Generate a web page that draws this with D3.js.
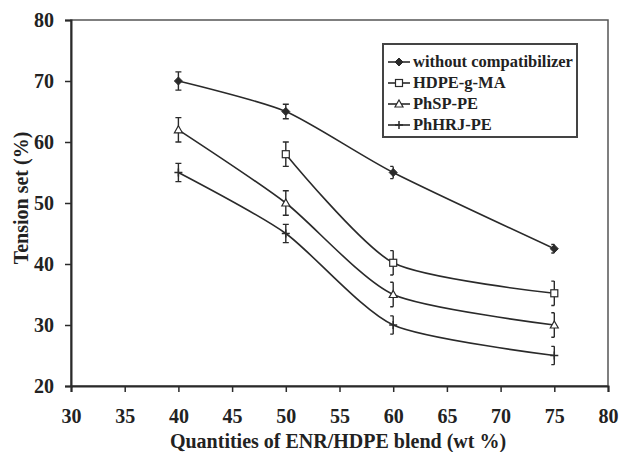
<!DOCTYPE html>
<html><head><meta charset="utf-8">
<script src="https://cdn.jsdelivr.net/npm/d3@7"></script>
<style>body{margin:0;background:#fff}svg{display:block}text{font-family:"Liberation Serif","Times New Roman",serif;font-weight:bold;fill:#222}</style>
</head><body><svg id="c" width="620" height="452"></svg>
<script>
const xTicks = [30,35,40,45,50,55,60,65,70,75,80];
const yTicks = [20,30,40,50,60,70,80];
const seriesNames = ["without compatibilizer","HDPE-g-MA","PhSP-PE","PhHRJ-PE"];
const markerTypes = ["diamond","square","triangle","plus"];
const xWithout = [40,50,60,75];
const yWithout = [70,65,55,42.5];
const eWithout = [1.5,1.2,1,0.7];
const xHdpe = [50,60,75];
const yHdpe = [58,40.2,35.2];
const eHdpe = [2,2,2];
const xPhsp = [40,50,60,75];
const yPhsp = [62,50,35,30];
const ePhsp = [2,2,2,2];
const xPhhrj = [40,50,60,75];
const yPhhrj = [55,45,30,25];
const ePhhrj = [1.5,1.5,1.5,1.5];
const xTitle = "Quantities of ENR/HDPE blend (wt %)";
const yTitle = "Tension set (%)";

const series = [
  {name:seriesNames[0], m:markerTypes[0], xs:xWithout, ys:yWithout, es:eWithout},
  {name:seriesNames[1], m:markerTypes[1], xs:xHdpe, ys:yHdpe, es:eHdpe},
  {name:seriesNames[2], m:markerTypes[2], xs:xPhsp, ys:yPhsp, es:ePhsp},
  {name:seriesNames[3], m:markerTypes[3], xs:xPhhrj, ys:yPhhrj, es:ePhhrj}
];

const L=71, R=608, T=20, B=386;
const svg = d3.select("#c");
const x = d3.scaleLinear().domain([30,80]).range([L,R]);
const y = d3.scaleLinear().domain([20,80]).range([B,T]);
const ink = "#2a2a2a";

svg.append("rect").attr("x",L).attr("y",T).attr("width",R-L).attr("height",B-T)
  .attr("fill","none").attr("stroke","#555").attr("stroke-width",1.5);

const gx = svg.append("g").attr("transform",`translate(0,${B})`)
  .call(d3.axisBottom(x).tickValues(xTicks).tickSize(6).tickPadding(17).tickFormat(d3.format("d")));
const gy = svg.append("g").attr("transform",`translate(${L},0)`)
  .call(d3.axisLeft(y).tickValues(yTicks).tickSize(6).tickPadding(11).tickFormat(d3.format("d")));
[gx,gy].forEach(g=>{
  g.select(".domain").attr("stroke",ink).attr("stroke-width",2);
  g.selectAll(".tick line").attr("stroke",ink).attr("stroke-width",1.5);
  g.selectAll("text").attr("font-size",20).attr("font-family","Liberation Serif").attr("font-weight","bold").attr("fill","#222");
});

svg.append("text").attr("x",338).attr("y",448).attr("text-anchor","middle").attr("font-size",20).text(xTitle);
svg.append("text").attr("transform",`translate(28,198) rotate(-90)`).attr("text-anchor","middle").attr("font-size",20).text(yTitle);

const line = d3.line().x(d=>x(d[0])).y(d=>y(d[1])).curve(d3.curveCardinal.tension(0.3));

function marker(g, type, cx, cy){
  if(type==="diamond"){
    g.append("path").attr("d",`M${cx},${cy-4}L${cx+4},${cy}L${cx},${cy+4}L${cx-4},${cy}Z`).attr("fill",ink).attr("stroke",ink);
  } else if(type==="square"){
    g.append("rect").attr("x",cx-3.5).attr("y",cy-3.5).attr("width",7).attr("height",7).attr("fill","#fff").attr("stroke",ink).attr("stroke-width",1.2);
  } else if(type==="triangle"){
    g.append("path").attr("d",`M${cx},${cy-4}L${cx+4},${cy+3}L${cx-4},${cy+3}Z`).attr("fill","#fff").attr("stroke",ink).attr("stroke-width",1.2);
  } else {
    g.append("path").attr("d",`M${cx-4},${cy}H${cx+4}M${cx},${cy-4}V${cy+4}`).attr("stroke",ink).attr("stroke-width",1.5);
  }
}

series.forEach(s=>{
  const pts = s.xs.map((v,i)=>[v,s.ys[i]]);
  const g = svg.append("g");
  g.append("path").datum(pts).attr("d",line).attr("fill","none").attr("stroke",ink).attr("stroke-width",1.6);
  pts.forEach((p,i)=>{
    const cx=x(p[0]), lo=y(p[1]-s.es[i]), hi=y(p[1]+s.es[i]);
    const left = p[0]>=60;
    g.append("path").attr("d",`M${cx},${hi}V${lo}M${cx-3},${hi}H${left?cx:cx+3}M${cx-3},${lo}H${left?cx:cx+3}`)
      .attr("stroke",ink).attr("stroke-width",1.4).attr("fill","none");
    marker(g, s.m, cx, y(p[1]));
  });
});

const lg = svg.append("g");
lg.append("rect").attr("x",383).attr("y",44).attr("width",194).attr("height",93)
  .attr("fill","#fff").attr("stroke","#444").attr("stroke-width",2);
series.forEach((s,i)=>{
  const cy = 62 + i*21;
  lg.append("line").attr("x1",388).attr("x2",410).attr("y1",cy).attr("y2",cy).attr("stroke",ink).attr("stroke-width",1.6);
  marker(lg, s.m, 399, cy);
  lg.append("text").attr("x",413).attr("y",cy+5).attr("font-size",16.5).text(s.name);
});
</script></body></html>
